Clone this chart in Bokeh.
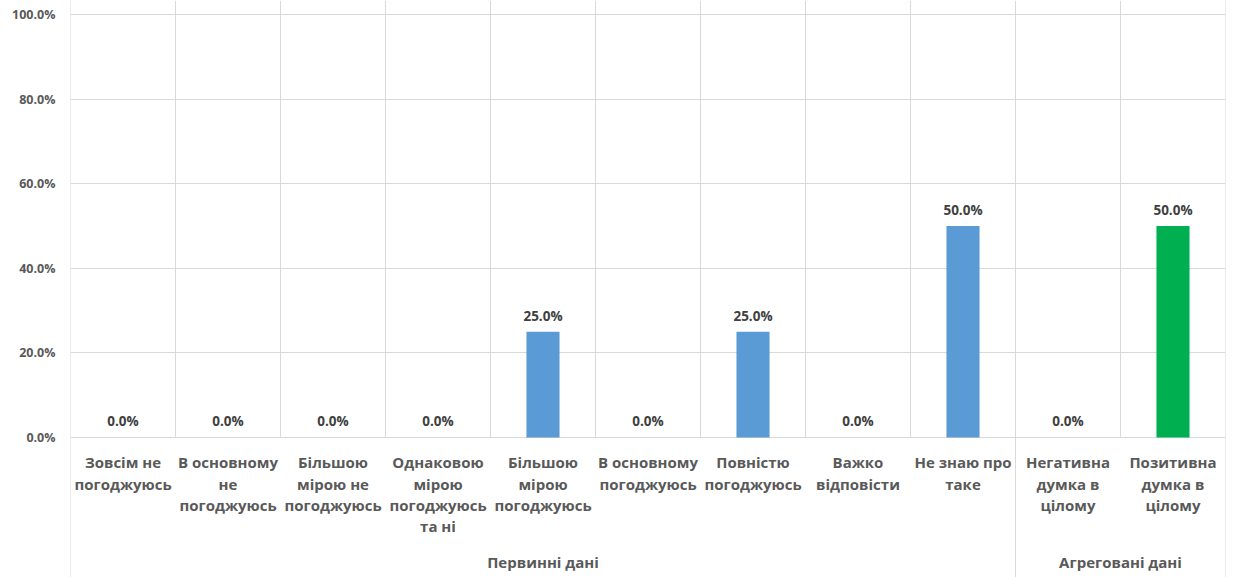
from bokeh.plotting import figure
from bokeh.models import ColumnDataSource, FixedTicker, NumeralTickFormatter, Range1d
from bokeh.core.properties import value
from bokeh.embed import file_html
from bokeh.resources import INLINE

categories = ["Зовсім не\nпогоджуюсь", "В основному\nне\nпогоджуюсь", "Більшою\nмірою не\nпогоджуюсь",
              "Однаковою\nмірою\nпогоджуюсь\nта ні", "Більшою\nмірою\nпогоджуюсь", "В основному\nпогоджуюсь",
              "Повністю\nпогоджуюсь", "Важко\nвідповісти", "Не знаю про\nтаке",
              "Негативна\nдумка в\nцілому", "Позитивна\nдумка в\nцілому"]
values_ = [0.0, 0.0, 0.0, 0.0, 0.25, 0.0, 0.25, 0.0, 0.50, 0.0, 0.50]
groups = ["Первинні дані"] * 9 + ["Агреговані дані"] * 2
colors = ["#5B9BD5"] * 9 + ["#C00000", "#00B050"]
yticks = [0.0, 0.2, 0.4, 0.6, 0.8, 1.0]

FONT = "Open Sans"
GRID = "#D9D9D9"

n = len(categories)
xs = [i + 0.5 for i in range(n)]
labels = ["%.1f%%" % (v * 100) for v in values_]

y_lo, y_hi = -0.331, 1.0331
p = figure(width=1246, height=577, output_backend="svg", toolbar_location=None,
           x_range=Range1d(0, n), y_range=Range1d(y_lo, y_hi),
           x_axis_location=None, min_border_left=70, min_border_right=21,
           min_border_top=0, min_border_bottom=0, outline_line_color=None)
p.xgrid.visible = False
p.ygrid.ticker = FixedTicker(ticks=yticks)
p.ygrid.grid_line_color = GRID
p.yaxis.ticker = FixedTicker(ticks=yticks)
p.yaxis.formatter = NumeralTickFormatter(format="0.0%")
p.yaxis.axis_line_color = None
p.yaxis.major_tick_line_color = None
p.yaxis.minor_tick_line_color = None
p.yaxis.major_tick_out = 0
p.yaxis.minor_tick_out = 0
p.yaxis.major_label_text_font = FONT
p.yaxis.major_label_text_font_style = "bold"
p.yaxis.major_label_text_font_size = "12.5px"
p.yaxis.major_label_text_color = "#595959"
p.yaxis.major_label_standoff = 15

# vertical separators
bounds = list(range(n + 1))
p.segment(x0=bounds, y0=[0] * len(bounds), x1=bounds, y1=[y_hi] * len(bounds), line_color=GRID, line_width=1)
gb = [0] + [i for i in range(1, n) if groups[i] != groups[i - 1]] + [n]
p.segment(x0=gb, y0=[y_lo] * len(gb), x1=gb, y1=[0] * len(gb), line_color=GRID, line_width=1)

src = ColumnDataSource(dict(x=xs, top=values_, color=colors, label=labels, cat=categories))
p.vbar(x="x", top="top", width=0.315, fill_color="color", line_color=None, source=src)
p.text(x="x", y="top", text="label", source=src, text_align="center", text_baseline="middle",
       y_offset=-16, text_font=value(FONT), text_font_style="bold", text_font_size="13.5px",
       text_color="#404040")
p.text(x="x", y=0, text="cat", source=src, text_align="center", text_baseline="top",
       y_offset=15, text_font=value(FONT), text_font_style="bold", text_font_size="15px",
       text_color="#595959", text_line_height=1.06)

# group labels
gnames = [groups[a] for a in gb[:-1]]
gx = [(gb[k] + gb[k + 1]) / 2 for k in range(len(gb) - 1)]
p.text(x=gx, y=[0] * len(gx), text=gnames, text_align="center", text_baseline="middle",
       y_offset=125, text_font=value(FONT), text_font_style="bold", text_font_size="15px",
       text_color="#595959")

open("out.html", "w").write(file_html(p, INLINE))
